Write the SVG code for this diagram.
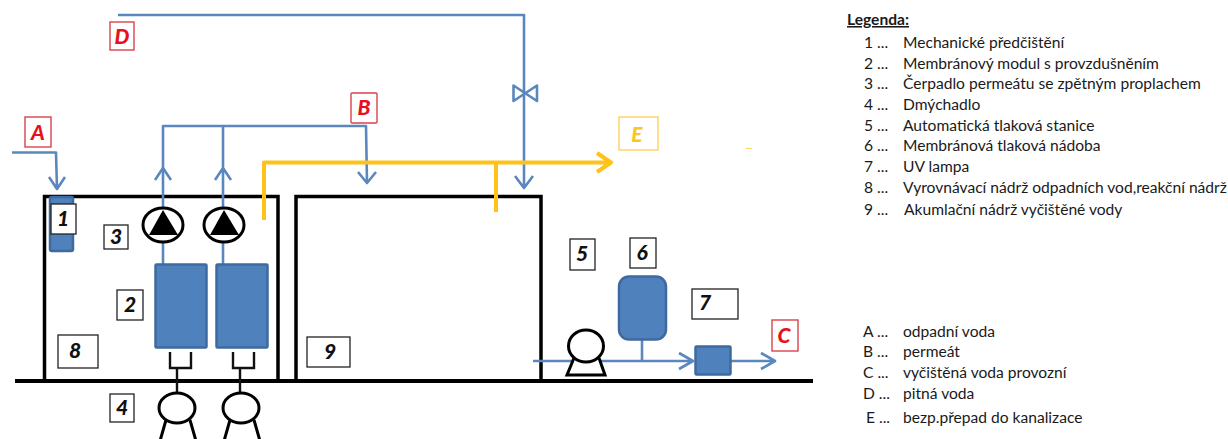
<svg xmlns="http://www.w3.org/2000/svg" width="1228" height="439" viewBox="0 0 1228 439">
<defs>
<style>
.tank{fill:none;stroke:#000;stroke-width:3.500}
.pipe{fill:none;stroke:#5b87bf;stroke-width:2.600;stroke-linejoin:round}
.ypipe{fill:none;stroke:#ffc21a;stroke-width:4;stroke-linejoin:round}
.blue{fill:#4f81bd;stroke:#3f6a9f;stroke-width:2.500}
.sym{fill:#fff;stroke:#000;stroke-width:3}
.air{fill:none;stroke:#111;stroke-width:2.400}
.lab{fill:#fff;stroke:#222;stroke-width:1.300}
.num{font:italic 900 21px "Lato","Liberation Sans",sans-serif;fill:#111;text-anchor:middle}
.rb{fill:#fff;stroke:#d8434a;stroke-width:1.400}
.rt{font:italic 900 21px "Lato","Liberation Sans",sans-serif;fill:#e8101c;text-anchor:middle}
.yb{fill:#fff;stroke:#fbd35e;stroke-width:1.400}
.yt{font:italic 900 21px "Lato","Liberation Sans",sans-serif;fill:#fbc71e;text-anchor:middle}
.leg{font:15.6px "Lato","Open Sans",sans-serif;fill:#1a1a1a}
.legh{font:bold 15.6px "Lato","Open Sans",sans-serif;fill:#1a1a1a;text-decoration:underline}
</style>
</defs>
<rect width="1228" height="439" fill="#fff"/>

<g id="tanks">
<path class="tank" d="M44.500 380V196.500H278V380"/>
<path class="tank" d="M296 380V196.500H541V380"/>
<path d="M15 381H813" stroke="#000" stroke-width="4" fill="none"/>
</g>

<g id="connectors">
<path class="pipe" d="M12 152.500H56L57 189M49 177L57 189L65 177"/>
<path class="pipe" d="M163 225V126H366L367 183"/>
<path class="pipe" d="M155 180L163 168L171 180"/>
<path class="pipe" d="M223 225V126M215 180L223 168L231 180"/>
<path class="pipe" d="M358 172L367 183L376 172"/>
<path class="pipe" d="M118 15H524V188M515 176L524 188L533 176"/>
<path class="pipe" d="M513.500 85.500L537 101V85.500L513.500 101Z"/>
<path class="pipe" d="M163 240V265M223 240V265"/>
<path class="pipe" d="M533 361H693M679 353L693 361L679 369"/>
<path class="pipe" d="M642 340V361"/>
<path class="pipe" d="M731 361H775M761 353L775 361L761 369"/>
<path class="ypipe" d="M264 220V162.500H610M597 153L611 162.500L597 172"/>
<path class="ypipe" d="M496 162.500V212"/>
<path d="M746 148.500H752" stroke="#fbd35e" stroke-width="1" fill="none"/>
<path class="air" d="M170 352V368H191V352M177 368V395"/>
<path class="air" d="M233 352V368H254V352M240 368V395"/>
</g>

<g id="n1"><rect class="blue" x="50" y="197" width="23" height="54" rx="2"/><rect class="lab" x="51" y="204" width="25" height="30"/><text class="num" x="63" y="226">1</text></g>
<g id="n2a"><rect class="blue" x="155.500" y="264.500" width="51" height="83" rx="1"/></g>
<g id="n2b"><rect class="blue" x="216.500" y="264.500" width="51" height="83" rx="1"/></g>
<g id="n2"><rect class="lab" x="117" y="290" width="26" height="30"/><text class="num" x="130" y="312">2</text></g>
<g id="n3"><rect class="lab" x="104" y="225" width="24" height="24"/><text class="num" x="116" y="244">3</text></g>
<g id="pump1"><ellipse class="sym" cx="163" cy="225" rx="20" ry="17"/><path d="M149 235L163 210L178 235Z" fill="#000"/></g>
<g id="pump2"><ellipse class="sym" cx="224" cy="225" rx="20" ry="17"/><path d="M210 235L224 210L239 235Z" fill="#000"/></g>
<g id="n4"><rect class="lab" x="110" y="394" width="24" height="28"/><text class="num" x="122" y="415">4</text></g>
<g id="blower1"><path class="sym" d="M166 420L160 441H196L190 420"/><ellipse class="sym" cx="177" cy="408" rx="18" ry="15"/></g>
<g id="blower2"><path class="sym" d="M230 420L224 441H260L254 420"/><ellipse class="sym" cx="241" cy="408" rx="18" ry="15"/></g>
<g id="n8"><rect class="lab" x="58" y="335" width="40" height="33"/><text class="num" x="75" y="358">8</text></g>
<g id="n9"><rect class="lab" x="307" y="337" width="43" height="30"/><text class="num" x="330" y="359">9</text></g>
<g id="n5"><rect class="lab" x="570" y="239" width="25" height="31"/><text class="num" x="582" y="261">5</text></g>
<g id="n6"><rect class="lab" x="630" y="238" width="26" height="30"/><text class="num" x="642" y="260">6</text></g>
<g id="n7"><rect class="lab" x="692" y="289" width="46" height="30"/><text class="num" x="705" y="310">7</text></g>
<g id="pump5"><path class="sym" d="M574 358L567 375H605L599 358"/><ellipse class="sym" cx="586" cy="346" rx="17.500" ry="16"/></g>
<g id="vessel"><rect class="blue" x="619" y="276.500" width="47" height="63" rx="10"/></g>
<g id="uv"><rect class="blue" x="695.500" y="346.500" width="35" height="28" rx="1"/></g>
<g id="A"><rect class="rb" x="25" y="117" width="26" height="30"/><text class="rt" x="38" y="140">A</text></g>
<g id="B"><rect class="rb" x="351" y="93" width="26" height="30" rx="1"/><text class="rt" x="364" y="115">B</text></g>
<g id="C"><rect class="rb" x="772" y="320" width="26" height="31"/><text class="rt" x="784" y="343">C</text></g>
<g id="D"><rect class="rb" x="110" y="22" width="24" height="28"/><text class="rt" x="122" y="44">D</text></g>
<g id="E"><rect class="yb" x="619" y="117" width="39" height="33"/><text class="yt" x="637" y="142">E</text></g>

<g id="legend">
<text class="legh" x="847" y="25">Legenda:</text>
<text class="leg" x="864" y="48">1 ...</text><text class="leg" x="903" y="48">Mechanické předčištění</text>
<text class="leg" x="864" y="69">2 ...</text><text class="leg" x="903" y="69">Membránový modul s provzdušněním</text>
<text class="leg" x="864" y="89">3 ...</text><text class="leg" x="903" y="89">Čerpadlo permeátu se zpětným proplachem</text>
<text class="leg" x="864" y="110">4 ...</text><text class="leg" x="903" y="110">Dmýchadlo</text>
<text class="leg" x="864" y="131">5 ...</text><text class="leg" x="903" y="131">Automatická tlaková stanice</text>
<text class="leg" x="864" y="151">6 ...</text><text class="leg" x="903" y="151">Membránová tlaková nádoba</text>
<text class="leg" x="864" y="172">7 ...</text><text class="leg" x="903" y="172">UV lampa</text>
<text class="leg" x="864" y="193">8 ...</text><text class="leg" x="903" y="193">Vyrovnávací nádrž odpadních vod,reakční nádrž</text>
<text class="leg" x="864" y="215">9 ...</text><text class="leg" x="904" y="215">Akumlační nádrž vyčištěné vody</text>
<text class="leg" x="863" y="337">A ...</text><text class="leg" x="903" y="337">odpadní voda</text>
<text class="leg" x="863" y="357">B ...</text><text class="leg" x="903" y="357">permeát</text>
<text class="leg" x="863" y="378">C ...</text><text class="leg" x="903" y="378">vyčištěná voda provozní</text>
<text class="leg" x="863" y="399">D ...</text><text class="leg" x="903" y="399">pitná voda</text>
<text class="leg" x="866" y="423">E ...</text><text class="leg" x="903" y="423">bezp.přepad do kanalizace</text>
</g>
</svg>
